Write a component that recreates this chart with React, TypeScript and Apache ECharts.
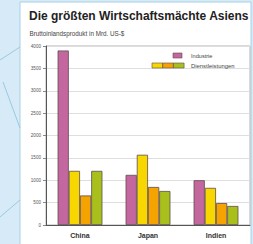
import React, { useEffect, useRef } from "react";
import * as echarts from "echarts";

const categories = ["China", "Japan", "Indien"];
const industrie = [3900, 1120, 1000];
const dienstGelb = [1210, 1570, 830];
const dienstOrange = [660, 850, 490];
const dienstGruen = [1210, 760, 425];

const titleText = "Die größten Wirtschaftsmächte Asiens";
const subtitleText = "Bruttoinlandsprodukt in Mrd. US-$";
const legendIndustrie = "Industrie";
const legendDienst = "Dienstleistungen";

const PINK = "#c5679f";
const YELLOW = "#f8d600";
const ORANGE = "#f5a300";
const GREEN = "#a9c01c";
const BORDER = "#5e4b4e";
const FONT = "Liberation Sans";

export default function App() {
  const ref = useRef<HTMLDivElement>(null);
  useEffect(() => {
    if (!ref.current) return;
    const chart = echarts.init(ref.current, undefined, { renderer: "svg" });
    const barStyle = (c: string) => ({ color: c, borderColor: BORDER, borderWidth: 0.8 });
    chart.setOption({
      animation: false,
      backgroundColor: "#d6ebf7",
      graphic: [
        { type: "line", shape: { x1: 0, y1: 60, x2: 20, y2: 47 }, style: { stroke: "#9cc9e0", lineWidth: 1 }, z: 0 },
        { type: "line", shape: { x1: 3, y1: 82, x2: 20, y2: 128 }, style: { stroke: "#9cc9e0", lineWidth: 1 }, z: 0 },
        { type: "line", shape: { x1: 0, y1: 217, x2: 20, y2: 200 }, style: { stroke: "#9cc9e0", lineWidth: 1 }, z: 0 },
        { type: "rect", shape: { x: 20, y: 2, width: 231, height: 250 }, style: { fill: "#ffffff", stroke: "#a9d0e4", lineWidth: 1 }, z: -1, silent: true },
        { type: "rect", shape: { x: 173, y: 53, width: 9, height: 5 }, style: { fill: PINK, stroke: BORDER, lineWidth: 0.6 }, z: 10 },
        { type: "rect", shape: { x: 152, y: 63, width: 10.7, height: 5 }, style: { fill: YELLOW, stroke: BORDER, lineWidth: 0.6 }, z: 10 },
        { type: "rect", shape: { x: 162.7, y: 63, width: 10.7, height: 5 }, style: { fill: ORANGE, stroke: BORDER, lineWidth: 0.6 }, z: 10 },
        { type: "rect", shape: { x: 173.4, y: 63, width: 10.7, height: 5 }, style: { fill: GREEN, stroke: BORDER, lineWidth: 0.6 }, z: 10 },
        { type: "text", x: 191, y: 55.5, style: { text: legendIndustrie, fontSize: 5.6, fill: "#444", fontFamily: FONT, verticalAlign: "middle" }, z: 10 },
        { type: "text", x: 191, y: 65.5, style: { text: legendDienst, fontSize: 5.9, fill: "#444", fontFamily: FONT, verticalAlign: "middle" }, z: 10 },
      ],
      title: [
        { text: titleText, left: 29, top: 10, padding: 0, textStyle: { fontSize: 12, fontWeight: "bold", color: "#222", fontFamily: FONT } },
        { text: subtitleText, left: 29.5, top: 30.5, padding: 0, textStyle: { fontSize: 6.3, fontWeight: "normal", color: "#444", fontFamily: FONT } },
      ],
      grid: { left: 46, right: 3, top: 46, bottom: 19, show: true, borderColor: "#b5b5b5", borderWidth: 1, backgroundColor: "transparent" },
      xAxis: {
        type: "category",
        data: categories,
        axisLine: { lineStyle: { color: "#555", width: 1 } },
        axisTick: { show: false },
        axisLabel: { fontSize: 7, fontWeight: "bold", color: "#333", margin: 7, fontFamily: FONT },
      },
      yAxis: {
        type: "value",
        min: 0,
        max: 4000,
        interval: 500,
        axisLine: { show: true, lineStyle: { color: "#555", width: 1 } },
        axisTick: { show: true, length: 3, lineStyle: { color: "#888" } },
        axisLabel: { fontSize: 4.6, color: "#555", margin: 5, fontFamily: FONT, formatter: (v: number) => String(v) },
        splitLine: { lineStyle: { color: "#dedede", width: 1 } },
      },
      series: [
        { name: legendIndustrie, type: "bar", data: industrie, barWidth: 11.2, barGap: "0%", itemStyle: barStyle(PINK) },
        { name: legendDienst, type: "bar", data: dienstGelb, barWidth: 11.2, barGap: "0%", itemStyle: barStyle(YELLOW) },
        { name: legendDienst + " 2", type: "bar", data: dienstOrange, barWidth: 11.2, barGap: "0%", itemStyle: barStyle(ORANGE) },
        { name: legendDienst + " 3", type: "bar", data: dienstGruen, barWidth: 11.2, barGap: "0%", itemStyle: barStyle(GREEN) },
      ],
    });
    return () => chart.dispose();
  }, []);
  return (
    <div style={{ position: "fixed", left: 0, top: 0, width: 253, height: 244 }}>
      <div ref={ref} style={{ width: 253, height: 244 }} />
    </div>
  );
}
